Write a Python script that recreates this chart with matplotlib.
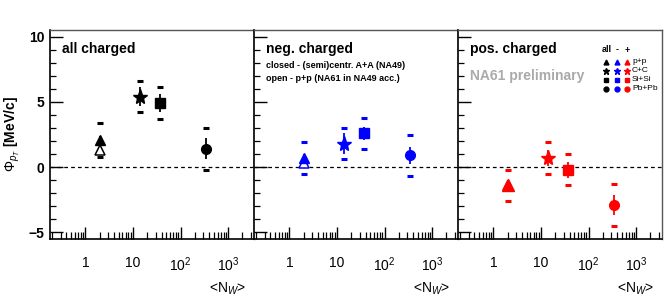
import numpy as np
import matplotlib
matplotlib.use("Agg")
import matplotlib.pyplot as plt
from matplotlib.ticker import LogLocator, MultipleLocator, NullFormatter, FixedLocator

plt.rcParams['font.family'] = ['Liberation Sans', 'DejaVu Sans']
plt.rcParams['mathtext.fontset'] = 'custom'
plt.rcParams['mathtext.rm'] = 'Liberation Sans'
plt.rcParams['mathtext.bf'] = 'Liberation Sans:bold'
plt.rcParams['mathtext.it'] = 'Liberation Sans:italic'

# systems and mean number of wounded nucleons
systems = ["p+p", "C+C", "Si+Si", "Pb+Pb"]
n_w = [2.0, 14.0, 37.0, 350.0]
markers = ["^", "*", "s", "o"]
msizes = [7, 11, 7, 7]

# Phi_pT [MeV/c] for all / negative / positive charged
phi_all = [2.1, 5.4, 4.9, 1.4]
stat_all = [0.3, 0.7, 0.7, 0.8]
sys_all = [1.3, 1.2, 1.2, 1.6]

phi_neg = [0.7, 1.8, 2.6, 0.9]
stat_neg = [0.3, 0.8, 0.5, 0.65]
sys_neg = [1.25, 1.2, 1.2, 1.6]

phi_pos = [-1.4, 0.7, -0.2, -2.9]
stat_pos = [0.3, 0.6, 0.6, 0.8]
sys_pos = [1.2, 1.2, 1.2, 1.6]

# open symbols: p+p in NA49 acceptance (NA61)
pp_open = [1.3, 0.3, -1.4]

panel_titles = ["all charged", "neg. charged", "pos. charged"]
colors = ["black", "#0000ff", "#ff0000"]

fig = plt.figure(figsize=(6.64, 2.99), dpi=100)
left0 = 50 / 664
w = 204 / 664
bot = 1 - 239 / 299
h = 209 / 299

datasets = [(phi_all, stat_all, sys_all), (phi_neg, stat_neg, sys_neg), (phi_pos, stat_pos, sys_pos)]

for k in range(3):
    ax = fig.add_axes([left0 + k * w, bot, w, h])
    ax.set_xscale("log")
    ax.set_xlim(0.18, 3500)
    ax.set_ylim(-5.5, 10.5)
    ax.axhline(0, color="black", ls=(0, (3, 2.5)), lw=0.9, zorder=1)
    phi, stat, sysu = datasets[k]
    c = colors[k]
    ax.plot(n_w[0], pp_open[k], marker="^", ms=7, mfc="white", mec=c, mew=1.1, ls="none", zorder=2.5)
    for i in range(4):
        ax.errorbar(n_w[i], phi[i], yerr=stat[i], fmt="none", ecolor=c, elinewidth=1.3, zorder=2)
        ax.plot([n_w[i], n_w[i]], [phi[i] - sysu[i], phi[i] + sysu[i]], ls="none",
                marker="_", ms=5, mew=2.2, color=c, zorder=2)
        ms = msizes[i] + (2 if (k == 2 and i == 0) else 0)
        ax.plot(n_w[i], phi[i], marker=markers[i], ms=ms, color=c, mec=c, ls="none", zorder=3)

    for sp in ["top", "right"]:
        ax.spines[sp].set_color("#555555")
        ax.spines[sp].set_linewidth(1.0)
    for sp in ["left", "bottom"]:
        ax.spines[sp].set_linewidth(1.2)

    ax.xaxis.set_major_locator(FixedLocator([1, 10, 100, 1000]))
    ax.xaxis.set_minor_locator(LogLocator(base=10, subs=np.arange(2, 10), numticks=20))
    ax.xaxis.set_minor_formatter(NullFormatter())
    ax.set_xticklabels(["1", "10", "$10^{2}$", "$10^{3}$"])
    ax.tick_params(axis="x", which="major", direction="in", length=9, width=1.0, labelsize=10, pad=12)
    ax.tick_params(axis="x", which="minor", direction="in", length=5, width=0.9)
    ax.yaxis.set_major_locator(FixedLocator([-5, 0, 5, 10]))
    ax.yaxis.set_minor_locator(MultipleLocator(1))
    ax.tick_params(axis="y", which="major", direction="in", length=9, width=1.0, labelsize=10, pad=4)
    ax.tick_params(axis="y", which="minor", direction="in", length=4.5, width=0.9)
    if k == 0:
        for lab in ax.get_yticklabels():
            lab.set_fontweight("bold")
        ax.set_ylabel(r"$\Phi_{p_{T}}$ [MeV/c]", fontsize=10, fontweight="bold", labelpad=5)
    else:
        ax.set_yticklabels([])

    ax.text(0.96, -0.2, r"<N$_{W}$>", transform=ax.transAxes, ha="right", va="top", fontsize=10)
    ax.text(0.06, 0.91, panel_titles[k], transform=ax.transAxes, ha="left", va="center",
            fontsize=10, fontweight="bold")

    if k == 1:
        ax.text(0.06, 0.83, "closed - (semi)centr. A+A (NA49)", transform=ax.transAxes,
                ha="left", va="center", fontsize=6.5, fontweight="bold")
        ax.text(0.06, 0.77, "open - p+p (NA61 in NA49 acc.)", transform=ax.transAxes,
                ha="left", va="center", fontsize=6.5, fontweight="bold")
    if k == 2:
        ax.text(0.06, 0.78, "NA61 preliminary", transform=ax.transAxes, ha="left", va="center",
                fontsize=10, fontweight="bold", color="#aaaaaa")
        # legend block
        xs = [0.725, 0.779, 0.828]
        ax.text(0.705, 0.905, "all", transform=ax.transAxes, ha="left", va="center",
                fontsize=6.5, fontweight="bold")
        ax.text(0.779, 0.905, "-", transform=ax.transAxes, ha="center", va="center",
                fontsize=6.5, fontweight="bold")
        ax.text(0.828, 0.9, "+", transform=ax.transAxes, ha="center", va="center",
                fontsize=6.5, fontweight="bold")
        rows = [0.847, 0.804, 0.761, 0.718]
        for r in range(4):
            for j in range(3):
                ax.plot(xs[j], rows[r], marker=markers[r], ms=3.5 if r != 1 else 5,
                        color=colors[j], ls="none", transform=ax.transAxes, clip_on=False)
            ax.text(0.853, rows[r], systems[r], transform=ax.transAxes, ha="left", va="center",
                    fontsize=6)

fig.savefig("out.png", dpi=100)
